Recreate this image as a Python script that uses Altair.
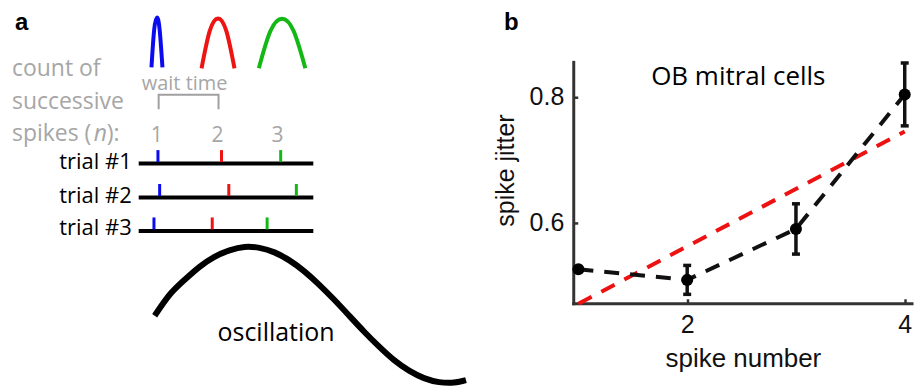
import altair as alt
import pandas as pd

# ===================== data =====================
# ---- panel a : schematic (drawing units) ----
PANEL_A_W, PANEL_A_H = 532, 390

# spike-time distributions for successive spikes n = 1, 2, 3
dist_n = [1, 1, 1, 1, 1, 2, 2, 2, 2, 2, 3, 3, 3, 3, 3]
dist_x = [151.8, 154.5, 157.3, 160.0, 162.8,
          202.0, 210.2, 218.5, 226.8, 235.0,
          259.4, 271.0, 282.7, 294.3, 306.0]
dist_y = [67, 29.5, 17, 29.5, 67,
          68, 30.5, 18, 30.5, 68,
          68, 30.7, 18.3, 30.7, 68]
spike_colors = ["#0b0bf0", "#ee1414", "#14b814"]

trial_labels = ["trial #1", "trial #2", "trial #3"]
trial_line_y = [163.5, 197.5, 231.0]
trial_line_x = [139, 314]
spike_times = [[158.3, 222.0, 281.3],
               [160.0, 229.3, 297.0],
               [154.3, 212.7, 267.7]]
SPIKE_H = 12

bracket_x = [159, 159, 219, 219]
bracket_y = [109, 94.5, 94.5, 109]

count_lines = ["count of", "successive", "spikes ("]
count_y = [76, 108.5, 140.5]
spike_numbers = ["1", "2", "3"]
spike_number_x = [157, 218, 278]

osc_x = [155, 170, 185, 200, 215, 230, 245, 260, 275, 290, 305,
         320, 335, 350, 365, 380, 395, 410, 425, 440, 455, 467]
osc_y = [316, 295, 280, 267, 257, 250.5, 247, 248, 252.5, 260.5, 271.5,
         285, 300, 316, 332, 347, 360.5, 371, 378.5, 382.5, 383, 380.5]

# ---- panel b : OB mitral cells ----
spike_number = [1, 2, 3, 4]
spike_jitter = [0.526, 0.509, 0.590, 0.804]
jitter_err = [0.0, 0.023, 0.040, 0.050]
fit_x = [1, 4]
fit_y = [0.471, 0.745]
x_ticks = [2, 4]
y_ticks = [0.6, 0.8]

XMIN, XMAX = 0.957, 4.067
YMIN, YMAX, YTOP = 0.471, 0.9535, 0.855

GRAY = "#a6a6a6"
CAL = "Open Sans"
HEL = "Liberation Sans"

# ===================== panel a =====================
sxa = alt.Scale(domain=[0, PANEL_A_W], nice=False, zero=False)
sya = alt.Scale(domain=[0, PANEL_A_H], reverse=True, nice=False, zero=False)


def XA(f="x"):
    return alt.X(f"{f}:Q", scale=sxa, axis=None)


def YA(f="y"):
    return alt.Y(f"{f}:Q", scale=sya, axis=None)


col_n = alt.Color("n:N", scale=alt.Scale(domain=[1, 2, 3], range=spike_colors), legend=None)

dist_df = pd.DataFrame({"n": dist_n, "x": dist_x, "y": dist_y})
dist = alt.Chart(dist_df).mark_line(interpolate="natural", strokeWidth=4).encode(
    x=XA(), y=YA(), color=col_n, detail="n:N")

train_df = pd.DataFrame({"x": [trial_line_x[0]] * 3, "x2": [trial_line_x[1]] * 3,
                         "y": trial_line_y, "label": trial_labels})
trains = alt.Chart(train_df).mark_rule(strokeWidth=4, color="black").encode(
    x=XA(), x2="x2:Q", y=YA())

rows = []
for ly, times in zip(trial_line_y, spike_times):
    for n, t in enumerate(times, start=1):
        rows.append({"n": n, "x": t, "y": ly - 1.5, "y2": ly - 1.5 - SPIKE_H})
spikes = alt.Chart(pd.DataFrame(rows)).mark_rule(strokeWidth=3).encode(
    x=XA(), y=YA(), y2="y2:Q", color=col_n)

br_df = pd.DataFrame({"x": bracket_x, "y": bracket_y, "o": range(4)})
bracket = alt.Chart(br_df).mark_line(strokeWidth=2, color="#a0a0a0").encode(
    x=XA(), y=YA(), order="o:Q")

osc_df = pd.DataFrame({"x": osc_x, "y": osc_y})
osc = alt.Chart(osc_df).mark_line(strokeWidth=6, color="black", interpolate="natural",
                                  strokeCap="butt").encode(x=XA(), y=YA())

count_df = pd.DataFrame({"x": [12] * 3, "y": count_y, "t": count_lines})
count_txt = alt.Chart(count_df).mark_text(align="left", baseline="alphabetic", font=CAL,
                                          fontSize=23, color=GRAY).encode(x=XA(), y=YA(), text="t:N")
n_df = pd.DataFrame({"x": [94], "y": [count_y[2]], "t": ["n"]})
n_txt = alt.Chart(n_df).mark_text(align="left", baseline="alphabetic", font=CAL, fontStyle="italic",
                                  fontSize=23, color=GRAY).encode(x=XA(), y=YA(), text="t:N")
close_df = pd.DataFrame({"x": [107], "y": [count_y[2]], "t": ["):"]})
close_txt = alt.Chart(close_df).mark_text(align="left", baseline="alphabetic", font=CAL,
                                          fontSize=23, color=GRAY).encode(x=XA(), y=YA(), text="t:N")
wait_df = pd.DataFrame({"x": [185], "y": [89.5], "t": ["wait time"]})
wait_txt = alt.Chart(wait_df).mark_text(align="center", baseline="alphabetic", font=CAL,
                                        fontSize=20, color=GRAY).encode(x=XA(), y=YA(), text="t:N")
num_df = pd.DataFrame({"x": spike_number_x, "y": [141.7] * 3, "t": spike_numbers})
num_txt = alt.Chart(num_df).mark_text(align="center", baseline="alphabetic", font=CAL,
                                      fontSize=21, color=GRAY).encode(x=XA(), y=YA(), text="t:N")
trial_txt = alt.Chart(pd.DataFrame({"x": [132] * 3, "y": [169.3, 202.7, 235.0], "t": trial_labels})).mark_text(
    align="right", baseline="alphabetic", font=CAL, fontSize=22, color="black").encode(
    x=XA(), y=YA(), text="t:N")
osc_txt = alt.Chart(pd.DataFrame({"x": [218], "y": [341.7], "t": ["oscillation"]})).mark_text(
    align="left", baseline="alphabetic", font=CAL, fontSize=25, color="black").encode(
    x=XA(), y=YA(), text="t:N")
panel_lbl = alt.Chart(pd.DataFrame({"x": [15, 505], "y": [30, 30], "t": ["a", "b"]})).mark_text(
    align="left", baseline="alphabetic", font=HEL, fontSize=24, fontWeight="bold", color="black").encode(
    x=XA(), y=YA(), text="t:N")

panel_a = alt.layer(dist, trains, spikes, bracket, osc, count_txt, n_txt, close_txt, wait_txt,
                    num_txt, trial_txt, osc_txt, panel_lbl).properties(width=PANEL_A_W, height=PANEL_A_H)

# ===================== panel b =====================
sxb = alt.Scale(domain=[XMIN, XMAX], nice=False, zero=False)
syb = alt.Scale(domain=[YMIN, YMAX], nice=False, zero=False)
AXC = "#333333"
INK = "#111111"
axx = alt.Axis(values=x_ticks, format="d", offset=-5, tickSize=5, tickWidth=2.5, tickColor=AXC,
               domain=False, grid=False, labelFont=HEL, labelFontSize=25, labelColor=INK,
               labelPadding=9, labelFlush=False, titleFont=HEL, titleFontSize=26,
               titleFontWeight="normal", titleColor=INK, titleY=68, titleBaseline="alphabetic")
axy = alt.Axis(values=y_ticks, format=".1f", offset=-4, tickSize=4, tickWidth=2.5, tickColor=AXC,
               domain=False, grid=False, labelFont=HEL, labelFontSize=25, labelColor=INK,
               labelPadding=10, labelFlush=False, titleFont=HEL, titleFontSize=25,
               titleFontWeight="normal", titleColor=INK, titleX=-59, titleY=170,
               titleBaseline="bottom")


def XB(f):
    return alt.X(f"{f}:Q", scale=sxb, axis=axx, title="spike number")


def YB(f):
    return alt.Y(f"{f}:Q", scale=syb, axis=axy, title="spike jitter")


axis_df = pd.DataFrame({"x": [XMIN, XMIN], "x2": [XMIN, XMAX], "y": [YMIN, YMIN], "y2": [YTOP, YMIN]})
axis_lines = alt.Chart(axis_df).mark_rule(strokeWidth=3, color=AXC, strokeCap="square").encode(
    x=XB("x"), x2="x2:Q", y=YB("y"), y2="y2:Q")

fit_df = pd.DataFrame({"x": fit_x, "y": fit_y})
fit = alt.Chart(fit_df).mark_line(color="#ee1111", strokeWidth=4, strokeDash=[15, 11]).encode(
    x=XB("x"), y=YB("y"))

pts_df = pd.DataFrame({"x": spike_number, "y": spike_jitter,
                       "lo": [v - e for v, e in zip(spike_jitter, jitter_err)],
                       "hi": [v + e for v, e in zip(spike_jitter, jitter_err)]})
dline = alt.Chart(pts_df).mark_line(color=INK, strokeWidth=4, strokeDash=[15, 11]).encode(
    x=XB("x"), y=YB("y"))
ebar = alt.Chart(pts_df).mark_rule(color=INK, strokeWidth=3.5).encode(
    x=XB("x"), y=YB("lo"), y2="hi:Q")
cap_lo = alt.Chart(pts_df).mark_tick(orient="horizontal", size=8, thickness=3.5, color=INK,
                                     opacity=1).encode(x=XB("x"), y=YB("lo"))
cap_hi = alt.Chart(pts_df).mark_tick(orient="horizontal", size=8, thickness=3.5, color=INK,
                                     opacity=1).encode(x=XB("x"), y=YB("hi"))
pts = alt.Chart(pts_df).mark_circle(size=145, color="black", opacity=1).encode(
    x=XB("x"), y=YB("y"))
ttl = alt.Chart(pd.DataFrame({"x": [2.47], "y": [0.8186], "t": ["OB mitral cells"]})).mark_text(
    font=CAL, fontSize=26, align="center", baseline="alphabetic", color="black").encode(
    x=XB("x"), y=YB("y"), text="t:N")

panel_b = alt.layer(axis_lines, fit, dline, ebar, cap_lo, cap_hi, pts, ttl).properties(
    width=339, height=304)

chart = alt.hconcat(panel_a, panel_b, spacing=43, bounds="flush").properties(
    padding=0, background="white").configure_view(stroke=None)

chart.save("out.html", embed_options={"renderer": "svg", "actions": False})
